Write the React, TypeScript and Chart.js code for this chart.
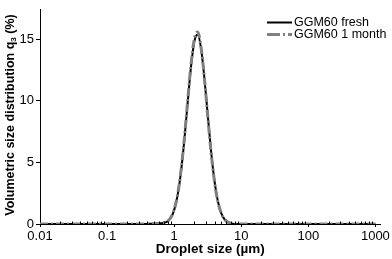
import React, { useEffect, useRef } from "react";
import { Chart, registerables } from "chart.js";

Chart.register(...registerables);

const sizes = [0.01, 0.1, 0.3, 0.398, 0.501, 0.562, 0.631, 0.708, 0.794, 0.891, 1.0, 1.122, 1.259, 1.413, 1.585, 1.778, 1.995, 2.239, 2.512, 2.818, 3.162, 3.548, 3.981, 4.467, 5.012, 5.623, 6.31, 7.079, 7.943, 8.913, 10, 20, 100, 1000];
const fresh = [0, 0, 0, 0.01, 0.02, 0.04, 0.06, 0.1, 0.2, 0.5, 1.13, 2.29, 4.15, 6.73, 9.78, 12.7, 14.8, 15.4, 14.3, 11.9, 8.9, 5.94, 3.55, 1.9, 0.91, 0.39, 0.15, 0.05, 0.01, 0, 0, 0, 0, 0];
const month = [0, 0, 0, 0.01, 0.02, 0.04, 0.07, 0.12, 0.22, 0.52, 1.18, 2.35, 4.25, 6.85, 9.9, 12.9, 15.0, 15.6, 14.4, 11.9, 8.8, 5.85, 3.5, 1.85, 0.9, 0.38, 0.15, 0.05, 0.01, 0, 0, 0, 0, 0];
const xTicks = [0.01, 0.1, 1, 10, 100, 1000];
const yTicks = [0, 5, 10, 15];
const seriesNames = ["GGM60 fresh", "GGM60 1 month"];
const xTitle = "Droplet size (\u00b5m)";
const yTitleMain = "Volumetric size distribution q";
const yTitleSub = "3";
const yTitleEnd = " (%)";

const FONT = "'Liberation Sans', Arial, sans-serif";

const decorPlugin = {
  id: "decor",
  afterDraw(chart: any) {
    const ctx = chart.ctx as CanvasRenderingContext2D;
    const ca = chart.chartArea;
    const xs = chart.scales.x;
    ctx.save();
    // minor ticks on x axis
    ctx.strokeStyle = "#000";
    ctx.lineWidth = 1;
    for (let d = 0.01; d < 2000; d *= 10) {
      for (let k = 2; k <= 9; k++) {
        const v = k * d;
        if (v > xs.max) break;
        const px = Math.round(xs.getPixelForValue(v)) + 0.5;
        ctx.beginPath();
        ctx.moveTo(px, ca.bottom);
        ctx.lineTo(px, ca.bottom - 2.5);
        ctx.stroke();
      }
    }
    // legend
    ctx.fillStyle = "#000";
    ctx.font = "12.5px " + FONT;
    ctx.textBaseline = "middle";
    ctx.textAlign = "left";
    ctx.strokeStyle = "#000";
    ctx.lineWidth = 2;
    ctx.beginPath();
    ctx.moveTo(267, 22.5);
    ctx.lineTo(292, 22.5);
    ctx.stroke();
    ctx.fillText(seriesNames[0], 294, 22.5);
    ctx.strokeStyle = "#808080";
    ctx.lineWidth = 3;
    ctx.setLineDash([13, 3, 2, 3]);
    ctx.beginPath();
    ctx.moveTo(267, 34.5);
    ctx.lineTo(292, 34.5);
    ctx.stroke();
    ctx.setLineDash([]);
    ctx.fillText(seriesNames[1], 294, 34.5);
    // x title
    ctx.font = "bold 13.5px " + FONT;
    ctx.textAlign = "center";
    ctx.fillText(xTitle, (ca.left + ca.right) / 2, 249);
    // y title
    ctx.translate(11, 115);
    ctx.rotate(-Math.PI / 2);
    ctx.textAlign = "left";
    ctx.textBaseline = "middle";
    const f1 = "bold 12.5px " + FONT;
    const f2 = "bold 8px " + FONT;
    ctx.font = f1;
    const w1 = ctx.measureText(yTitleMain).width;
    const w3 = ctx.measureText(yTitleEnd).width;
    ctx.font = f2;
    const w2 = ctx.measureText(yTitleSub).width;
    let x0 = -(w1 + w2 + w3) / 2;
    ctx.font = f1;
    ctx.fillText(yTitleMain, x0, 0);
    x0 += w1;
    ctx.font = f2;
    ctx.fillText(yTitleSub, x0, 3);
    x0 += w2;
    ctx.font = f1;
    ctx.fillText(yTitleEnd, x0, 0);
    ctx.restore();
  },
};

export default function App() {
  const ref = useRef<HTMLCanvasElement | null>(null);
  useEffect(() => {
    if (!ref.current) return;
    const chart = new Chart(ref.current, {
      type: "line",
      data: {
        datasets: [
          {
            label: seriesNames[0],
            data: sizes.map((s, i) => ({ x: s, y: fresh[i] })),
            borderColor: "#000",
            borderWidth: 2,
            pointRadius: 0,
            cubicInterpolationMode: "monotone",
            order: 1,
          },
          {
            label: seriesNames[1],
            data: sizes.map((s, i) => ({ x: s, y: month[i] })),
            borderColor: "#808080",
            borderWidth: 3,
            borderDash: [8, 3, 2, 3],
            pointRadius: 0,
            cubicInterpolationMode: "monotone",
            order: 0,
          },
        ],
      },
      options: {
        responsive: false,
        animation: false,
        layout: { padding: { left: 0, right: 10, top: 3, bottom: 0 } },
        plugins: { legend: { display: false }, tooltip: { enabled: false } },
        scales: {
          x: {
            type: "logarithmic",
            min: 0.01,
            max: 1188,
            afterBuildTicks: (s: any) => {
              s.ticks = xTicks.map((v) => ({ value: v }));
            },
            afterFit: (s: any) => {
              s.height = 35;
            },
            ticks: {
              autoSkip: false,
              maxRotation: 0,
              padding: 2,
              color: "#000",
              font: { family: FONT, size: 13 },
              callback: (v: any) => String(v),
            },
            grid: { display: true, drawOnChartArea: false, tickLength: 3, color: "#000" },
            border: { display: true, color: "#000", width: 1 },
          },
          y: {
            min: 0,
            max: 17.4,
            afterBuildTicks: (s: any) => {
              s.ticks = yTicks.map((v) => ({ value: v }));
            },
            afterFit: (s: any) => {
              s.width = 40;
            },
            ticks: {
              padding: 2,
              color: "#000",
              font: { family: FONT, size: 13 },
            },
            grid: { display: true, drawOnChartArea: false, tickLength: 4, color: "#000" },
            border: { display: true, color: "#000", width: 1 },
          },
        },
      },
      plugins: [decorPlugin],
    } as any);
    return () => chart.destroy();
  }, []);
  return (
    <div style={{ position: "absolute", left: 0, top: 0, width: 392, height: 259, background: "#fff" }}>
      <canvas ref={ref} width={392} height={259} />
    </div>
  );
}
